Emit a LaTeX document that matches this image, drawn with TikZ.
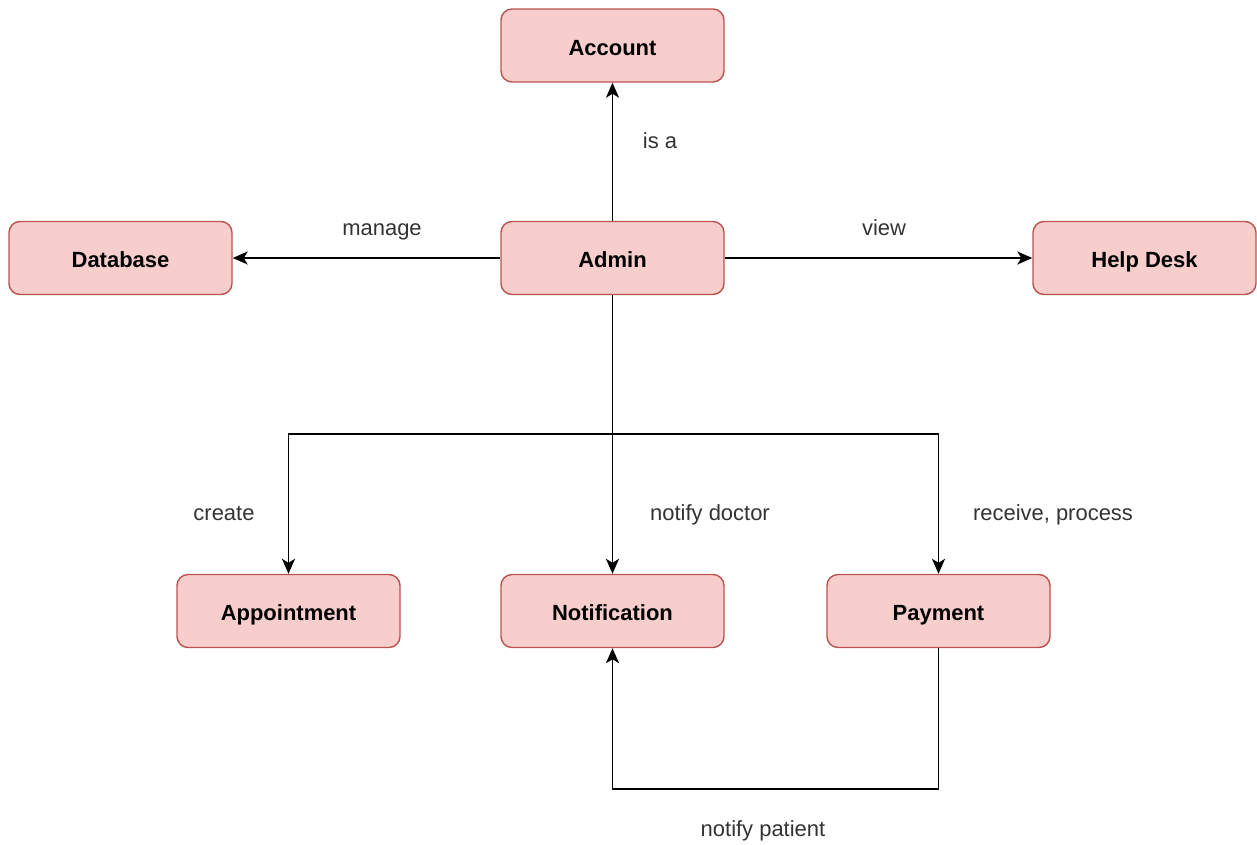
\documentclass[tikz,border=0pt]{standalone}
\usepackage{fontspec}
\setmainfont{Liberation Sans}
\usepackage{tikz}
\usetikzlibrary{arrows.meta}

\definecolor{boxfill}{HTML}{F8CECC}
\definecolor{boxline}{HTML}{B85450}
\definecolor{labelgray}{HTML}{333333}

\begin{document}
\begin{tikzpicture}
\useasboundingbox (0,0) rectangle (25.14,-16.88);
\begin{scope}[every node/.style={rectangle,rounded corners=0.22cm,draw=boxline,
              fill=boxfill,line width=0.8pt,minimum width=4.46cm,minimum height=1.46cm,
              text height=13pt,text depth=2pt,
              font=\fontsize{12.5}{15}\selectfont\bfseries}]
    \node (account) at (12.25, -0.91) {Account};
    \node (database) at (2.41, -5.16) {Database};
    \node (admin) at (12.25, -5.16) {Admin};
    \node (helpdesk) at (22.89, -5.16) {Help Desk};
    \node (appointment) at (5.77, -12.22) {Appointment};
    \node (notification) at (12.25, -12.22) {Notification};
    \node (payment) at (18.77, -12.22) {Payment};
\end{scope}
\coordinate (split) at (12.25, -8.68);
\coordinate (back) at (18.77, -15.78);
\begin{scope}[>={Stealth[length=0.3cm,width=0.26cm,inset=0.08cm]},
              black_edge/.style={draw=black,line width=1.1pt}]
    \path [->] (admin) edge [black_edge] (account);
    \path [->] (admin) edge [black_edge] (database);
    \path [->] (admin) edge [black_edge] (helpdesk);
    \draw [->,black_edge] (admin) -- (split) -| (appointment);
    \draw [->,black_edge] (admin) -- (split) -| (payment);
    \draw [->,black_edge] (split) -- (notification);
    \draw [->,black_edge] (payment) -- (back) -| (notification);
\end{scope}
\begin{scope}[every node/.style={text=labelgray,text height=12pt,text depth=2pt,
              font=\fontsize{12.5}{15}\selectfont}]
    \node (is_a) at (13.20, -2.80) {is a};
    \node (manage) at (7.64, -4.54) {manage};
    \node (view) at (17.68, -4.54) {view};
    \node (create) at (4.48, -10.24) {create};
    \node (notify_doctor) at (14.20, -10.24) {notify doctor};
    \node (receive) at (21.06, -10.24) {receive, process};
    \node (notify_patient) at (15.26, -16.56) {notify patient};
\end{scope}
\end{tikzpicture}
\end{document}
